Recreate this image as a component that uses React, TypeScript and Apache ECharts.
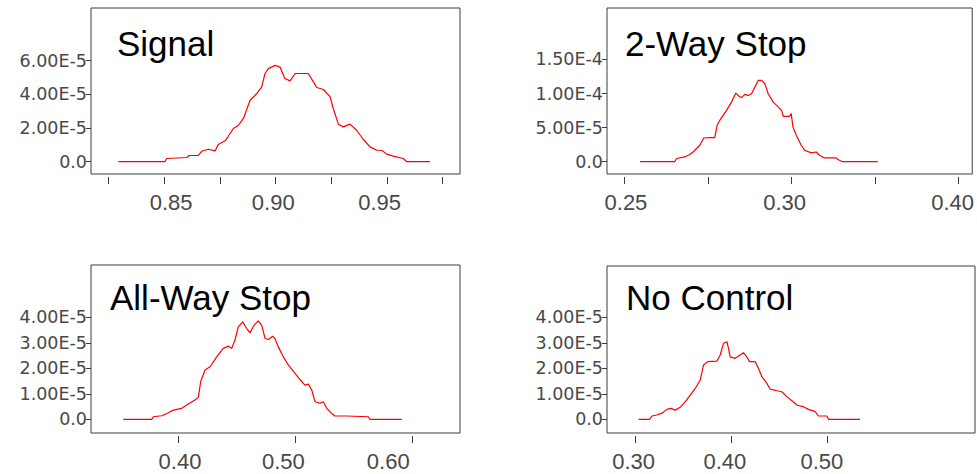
import React, { useEffect, useRef } from "react";
import * as echarts from "echarts";

// ---- Data ----
const signalX = [0.8295, 0.8504, 0.8512, 0.8602, 0.8613, 0.8654, 0.8669, 0.8699, 0.8729, 0.8743, 0.8774, 0.8788, 0.8811, 0.8833, 0.8856, 0.8886, 0.8916, 0.8938, 0.8953, 0.8968, 0.8998, 0.902, 0.9042, 0.9065, 0.9088, 0.911, 0.9147, 0.917, 0.9185, 0.9215, 0.9245, 0.9259, 0.9282, 0.9304, 0.9334, 0.9364, 0.9394, 0.9424, 0.9454, 0.9476, 0.9499, 0.9528, 0.9573, 0.9589, 0.9693];
const signalY = [0, 0, 1.9e-6, 2.5e-6, 3.7e-6, 3.7e-6, 6.2e-6, 7.4e-6, 6.4e-6, 10.2e-6, 12.4e-6, 15.1e-6, 19.7e-6, 21.5e-6, 25.7e-6, 36.5e-6, 40.5e-6, 44.4e-6, 52.4e-6, 55.3e-6, 57.2e-6, 56.2e-6, 49.4e-6, 48.0e-6, 52.4e-6, 52.4e-6, 52.4e-6, 47.4e-6, 44.1e-6, 42.9e-6, 38.5e-6, 31.6e-6, 22.3e-6, 20.7e-6, 22.3e-6, 18.7e-6, 13.2e-6, 8.8e-6, 6.8e-6, 6.8e-6, 4.5e-6, 3.3e-6, 1.9e-6, 0, 0];

const twoWayX = [0.2547, 0.2651, 0.2657, 0.2681, 0.2696, 0.2706, 0.2726, 0.2738, 0.2756, 0.2771, 0.2778, 0.2786, 0.2806, 0.2821, 0.2834, 0.2841, 0.2851, 0.2861, 0.2871, 0.2881, 0.2891, 0.2901, 0.2911, 0.2921, 0.2931, 0.2946, 0.2956, 0.2971, 0.2976, 0.2995, 0.3, 0.3005, 0.3015, 0.303, 0.304, 0.306, 0.3075, 0.3085, 0.3099, 0.3134, 0.3144, 0.3154, 0.3259];
const twoWayY = [0, 0, 4.7e-6, 7.0e-6, 10.5e-6, 14.3e-6, 24.1e-6, 34.8e-6, 35.4e-6, 35.4e-6, 53.4e-6, 60.7e-6, 75.3e-6, 87.4e-6, 100.6e-6, 97.2e-6, 93.9e-6, 98.7e-6, 97.2e-6, 99.7e-6, 109.4e-6, 119.2e-6, 119.2e-6, 114.3e-6, 99.7e-6, 87.4e-6, 82.6e-6, 75.3e-6, 66.5e-6, 66.5e-6, 70.5e-6, 50.9e-6, 38.8e-6, 24.1e-6, 16.8e-6, 12.9e-6, 14.3e-6, 9.5e-6, 5.6e-6, 5.6e-6, 2.2e-6, 0, 0];

const allWayX = [0.3532, 0.3775, 0.3789, 0.3861, 0.3917, 0.396, 0.4032, 0.4088, 0.4145, 0.4174, 0.4194, 0.4231, 0.4274, 0.4331, 0.4387, 0.443, 0.4459, 0.4487, 0.4515, 0.4553, 0.4587, 0.4615, 0.465, 0.4686, 0.4715, 0.4744, 0.4772, 0.4809, 0.4829, 0.4857, 0.49, 0.4943, 0.5, 0.5043, 0.5085, 0.5114, 0.5143, 0.5171, 0.5214, 0.5242, 0.5271, 0.5314, 0.5342, 0.5442, 0.5626, 0.5641, 0.5912];
const allWayY = [0, 0, 1.0e-6, 1.4e-6, 2.6e-6, 3.6e-6, 4.3e-6, 6.0e-6, 7.6e-6, 8.7e-6, 14.8e-6, 19.3e-6, 20.6e-6, 24.5e-6, 27.8e-6, 28.7e-6, 27.8e-6, 31.1e-6, 36.2e-6, 38.2e-6, 35.6e-6, 33.9e-6, 36.9e-6, 38.6e-6, 36.9e-6, 31.7e-6, 31.3e-6, 32.6e-6, 31.7e-6, 28.4e-6, 24.5e-6, 21.3e-6, 18.0e-6, 15.6e-6, 13.4e-6, 13.8e-6, 11.5e-6, 6.9e-6, 6.3e-6, 6.9e-6, 4.3e-6, 2.3e-6, 1.3e-6, 1.3e-6, 1.0e-6, 0, 0];

const noControlX = [0.3034, 0.3149, 0.3174, 0.3226, 0.3279, 0.3331, 0.3372, 0.3417, 0.3469, 0.3522, 0.3574, 0.3626, 0.3678, 0.3713, 0.3755, 0.3852, 0.3887, 0.3921, 0.3957, 0.3973, 0.3991, 0.4043, 0.4095, 0.413, 0.4165, 0.4193, 0.4252, 0.4286, 0.4322, 0.4374, 0.4408, 0.4478, 0.453, 0.4583, 0.4635, 0.4687, 0.4756, 0.4808, 0.4878, 0.4912, 0.5, 0.5017, 0.5347];
const noControlY = [0, 0, 1.3e-6, 1.7e-6, 2.4e-6, 3.9e-6, 4.3e-6, 3.6e-6, 4.7e-6, 6.9e-6, 9.5e-6, 12.1e-6, 15.4e-6, 21.3e-6, 22.6e-6, 22.8e-6, 25.2e-6, 29.8e-6, 30.4e-6, 27.8e-6, 24.5e-6, 23.9e-6, 25.2e-6, 26.1e-6, 24.5e-6, 22.6e-6, 22.6e-6, 20.0e-6, 16.7e-6, 14.1e-6, 11.8e-6, 11.2e-6, 10.8e-6, 8.9e-6, 7.3e-6, 5.6e-6, 4.9e-6, 3.9e-6, 3.0e-6, 1.3e-6, 1.3e-6, 0, 0];

// Tick values / labels
const signalXTicks = [0.825, 0.85, 0.875, 0.9, 0.925, 0.95, 0.975];
const signalXLabelAt = [0.8532, 0.899, 0.9467];
const signalXLabels = ["0.85", "0.90", "0.95"];
const signalYTicks = [0, 2e-5, 4e-5, 6e-5];
const signalYLabels = ["0.0", "2.00E-5", "4.00E-5", "6.00E-5"];

const twoWayXTicks = [0.25, 0.275, 0.3, 0.325, 0.35];
const twoWayXLabelAt = [0.2505, 0.298, 0.3483];
const twoWayXLabels = ["0.25", "0.30", "0.40"];
const twoWayYTicks = [0, 5e-5, 1e-4, 1.5e-4];
const twoWayYLabels = ["0.0", "5.00E-5", "1.00E-4", "1.50E-4"];

const allWayXTicks = [0.4, 0.5, 0.6];
const allWayXLabelAt = [0.4017, 0.49, 0.5797];
const allWayXLabels = ["0.40", "0.50", "0.60"];
const allWayYTicks = [0, 1e-5, 2e-5, 3e-5, 4e-5];
const allWayYLabels = ["0.0", "1.00E-5", "2.00E-5", "3.00E-5", "4.00E-5"];

const noControlXTicks = [0.3, 0.4, 0.5];
const noControlXLabelAt = [0.2982, 0.3936, 0.4948];
const noControlXLabels = ["0.30", "0.40", "0.50"];
const noControlYTicks = [0, 1e-5, 2e-5, 3e-5, 4e-5];
const noControlYLabels = ["0.0", "1.00E-5", "2.00E-5", "3.00E-5", "4.00E-5"];

const titles = ["Signal", "2-Way Stop", "All-Way Stop", "No Control"];

function nearestLabel(v: number, at: number[], labels: string[]) {
  let best = 0;
  let bd = Infinity;
  at.forEach((a, i) => {
    const d = Math.abs(a - v);
    if (d < bd) { bd = d; best = i; }
  });
  return labels[best];
}

type Panel = {
  title: string;
  xs: number[]; ys: number[];
  xTicks: number[]; xLabelAt: number[]; xLabels: string[];
  yTicks: number[]; yLabels: string[];
  grid: { left: number; top: number; width: number; height: number };
  xRange: [number, number]; yRange: [number, number];
  titlePos: [number, number];
};

const panels: Panel[] = [
  {
    title: titles[0], xs: signalX, ys: signalY,
    xTicks: signalXTicks, xLabelAt: signalXLabelAt, xLabels: signalXLabels,
    yTicks: signalYTicks, yLabels: signalYLabels,
    grid: { left: 91, top: 8, width: 369, height: 166 },
    xRange: [0.81724, 0.98276], yRange: [-0.73e-5, 9.13e-5],
    titlePos: [117, 43.5],
  },
  {
    title: titles[1], xs: twoWayX, ys: twoWayY,
    xTicks: twoWayXTicks, xLabelAt: twoWayXLabelAt, xLabels: twoWayXLabels,
    yTicks: twoWayYTicks, yLabels: twoWayYLabels,
    grid: { left: 607, top: 8, width: 366, height: 166 },
    xRange: [0.24483, 0.35418], yRange: [-1.8e-5, 2.254e-4],
    titlePos: [625, 43.5],
  },
  {
    title: titles[2], xs: allWayX, ys: allWayY,
    xTicks: allWayXTicks, xLabelAt: allWayXLabelAt, xLabels: allWayXLabels,
    yTicks: allWayYTicks, yLabels: allWayYLabels,
    grid: { left: 91, top: 265, width: 369, height: 168 },
    xRange: [0.32564, 0.64103], yRange: [-0.537e-5, 6.05e-5],
    titlePos: [110, 297.5],
  },
  {
    title: titles[3], xs: noControlX, ys: noControlY,
    xTicks: noControlXTicks, xLabelAt: noControlXLabelAt, xLabels: noControlXLabels,
    yTicks: noControlYTicks, yLabels: noControlYLabels,
    grid: { left: 607, top: 266, width: 368, height: 167 },
    xRange: [0.27047, 0.65472], yRange: [-0.537e-5, 6.01e-5],
    titlePos: [626, 297.5],
  },
];

const AXIS_COLOR = "#3c3c3c";
const LABEL_COLOR = "#484848";

export default function App() {
  const ref = useRef<HTMLDivElement>(null);
  useEffect(() => {
    if (!ref.current) return;
    const chart = echarts.init(ref.current, undefined, { renderer: "svg" });
    const option: any = {
      animation: false,
      backgroundColor: "#ffffff",
      grid: panels.map((p) => ({
        ...p.grid,
        show: true,
        borderColor: AXIS_COLOR,
        borderWidth: 1,
        backgroundColor: "transparent",
        containLabel: false,
      })),
      xAxis: panels.map((p, i) => ({
        type: "value",
        gridIndex: i,
        position: "bottom",
        min: p.xRange[0],
        max: p.xRange[1],
        offset: 3,
        axisLine: { show: false, onZero: false },
        splitLine: { show: false },
        axisTick: {
          show: true,
          length: 7,
          customValues: p.xTicks,
          lineStyle: { color: AXIS_COLOR, width: 1 },
        },
        axisLabel: {
          customValues: p.xLabelAt,
          margin: 14,
          color: LABEL_COLOR,
          fontFamily: "Liberation Sans",
          fontSize: 22,
          formatter: (v: number) => nearestLabel(v, p.xLabelAt, p.xLabels),
        },
      })),
      yAxis: panels.map((p, i) => ({
        type: "value",
        gridIndex: i,
        position: "left",
        min: p.yRange[0],
        max: p.yRange[1],
        axisLine: { show: false, onZero: false },
        splitLine: { show: false },
        axisTick: {
          show: true,
          length: 5,
          customValues: p.yTicks,
          lineStyle: { color: AXIS_COLOR, width: 1 },
        },
        axisLabel: {
          customValues: p.yTicks,
          margin: 4,
          color: LABEL_COLOR,
          fontFamily: "DejaVu Sans",
          fontSize: 17.5,
          formatter: (v: number) => nearestLabel(v, p.yTicks, p.yLabels),
        },
      })),
      series: panels.map((p, i) => ({
        type: "line",
        xAxisIndex: i,
        yAxisIndex: i,
        showSymbol: false,
        symbol: "none",
        smooth: false,
        lineStyle: { color: "#ff0000", width: 1.2 },
        data: p.xs.map((x, k) => [x, p.ys[k]]),
      })),
      graphic: panels.map((p) => ({
        type: "text",
        x: p.titlePos[0],
        y: p.titlePos[1],
        style: {
          text: p.title,
          fill: "#000000",
          fontFamily: "Liberation Sans",
          fontSize: 35,
          align: "left",
          verticalAlign: "middle",
        },
      })),
    };
    chart.setOption(option);
    return () => chart.dispose();
  }, []);
  return (
    <div
      ref={ref}
      style={{ position: "fixed", left: 0, top: 0, width: 977, height: 474, background: "#fff" }}
    />
  );
}
